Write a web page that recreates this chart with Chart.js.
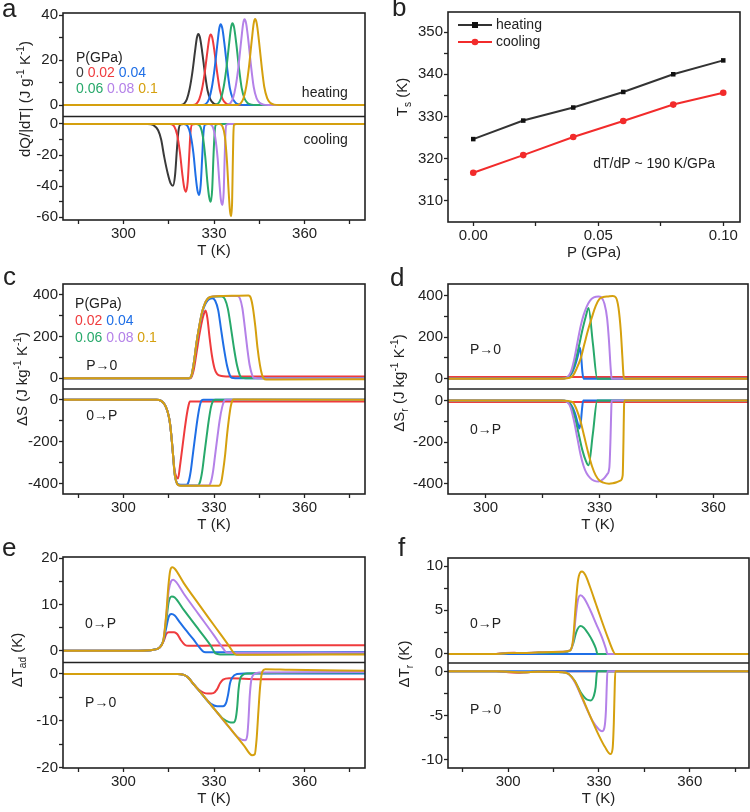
<!DOCTYPE html>
<html>
<head>
<meta charset="utf-8">
<title>Barocaloric panels a-f</title>
<script src="https://cdn.jsdelivr.net/npm/chart.js@4.4.1/dist/chart.umd.min.js"></script>
<style>
  html, body { margin: 0; padding: 0; background: #fff; overflow: hidden; }
  #fig { position: relative; width: 750px; height: 812px; overflow: hidden;
         font-family: "Liberation Sans", Arial, sans-serif; color: #222; }
  #fig canvas { position: absolute; }
  .lbl { position: absolute; font-size: 26px; line-height: 26px; }
  .ytitle { position: absolute; font-size: 15px; line-height: 18px; white-space: nowrap;
            transform: translate(-50%, -50%) rotate(-90deg); }
  sup, sub { font-size: 0.68em; line-height: 0; }
</style>
</head>
<body>
<div id="fig">
  <canvas id="ca"></canvas>
  <canvas id="cb"></canvas>
  <canvas id="cc"></canvas>
  <canvas id="cd"></canvas>
  <canvas id="ce"></canvas>
  <canvas id="cf"></canvas>

  <div class="lbl" style="left:2px;top:-5px">a</div>
  <div class="lbl" style="left:392px;top:-6px">b</div>
  <div class="lbl" style="left:3px;top:263px">c</div>
  <div class="lbl" style="left:390px;top:264px">d</div>
  <div class="lbl" style="left:2px;top:534px">e</div>
  <div class="lbl" style="left:398px;top:534px">f</div>

  <div class="ytitle" style="left:25px;top:99px">dQ/|dT| (J g<sup>-1</sup> K<sup>-1</sup>)</div>
  <div class="ytitle" style="left:402px;top:97px">T<sub>s</sub> (K)</div>
  <div class="ytitle" style="left:22px;top:379px">ΔS (J kg<sup>-1</sup> K<sup>-1</sup>)</div>
  <div class="ytitle" style="left:399px;top:383px">ΔS<sub>r</sub> (J kg<sup>-1</sup> K<sup>-1</sup>)</div>
  <div class="ytitle" style="left:17px;top:660px">ΔT<sub>ad</sub> (K)</div>
  <div class="ytitle" style="left:404px;top:664px">ΔT<sub>r</sub> (K)</div>
</div>

<script>
// colours per pressure (GPa)
const C000 = '#3a3a3a', C002 = '#ef3b3d', C004 = '#1f6fe6', C006 = '#28a96b', C008 = '#b481e8', C010 = '#d5a00e';
const INK = '#222';
const FONT = '"Liberation Sans", Arial, sans-serif';

// shared tick lists
const tTicks = [300, 330, 360];
const tMinor = [285, 315, 345, 375];

// ---- a: dQ/|dT| (J g-1 K-1), [T, value] ----
const aHeat000 = [[280,0],[318.9,0],[320.1,0.6],[321,2.5],[321.9,7],[322.8,14.2],[323.7,23.7],[324.35,30],[324.8,31.6],[325.35,30],[326.05,24],[326.95,14.5],[327.85,6.6],[328.8,2.5],[329.8,0.8],[331.1,0.16],[332.8,0],[380,0]];
const aHeat002 = [[280,0],[323,0],[324.2,0.6],[325.1,2.5],[326,6.9],[326.9,14.1],[327.8,23.6],[328.45,29.8],[328.9,31.4],[329.45,29.8],[330.15,23.9],[331.05,14.4],[331.95,6.6],[332.9,2.5],[333.9,0.8],[335.2,0.16],[336.9,0],[380,0]];
const aHeat004 = [[280,0],[326.3,0],[327.5,0.7],[328.4,2.9],[329.3,7.9],[330.2,16.2],[331.1,26.9],[331.75,34.1],[332.2,35.9],[332.75,34.1],[333.45,27.3],[334.35,16.5],[335.25,7.5],[336.2,2.9],[337.2,0.9],[338.5,0.18],[340.2,0],[380,0]];
const aHeat006 = [[280,0],[330.2,0],[331.4,0.7],[332.3,2.9],[333.2,8],[334.1,16.3],[335,27.2],[335.65,34.5],[336.1,36.3],[336.65,34.5],[337.35,27.6],[338.25,16.7],[339.15,7.6],[340.1,2.9],[341.1,0.9],[342.4,0.18],[344.1,0],[380,0]];
const aHeat008 = [[280,0],[334.2,0],[335.4,0.8],[336.3,3],[337.2,8.4],[338.1,17.1],[339,28.6],[339.65,36.2],[340.1,38.1],[340.65,36.2],[341.35,29],[342.25,17.5],[343.15,8],[344.1,3],[345.1,1],[346.4,0.19],[348.1,0],[380,0]];
const aHeat010 = [[280,0],[337.7,0],[338.9,0.8],[339.8,3.1],[340.7,8.4],[341.6,17.2],[342.5,28.7],[343.15,36.3],[343.6,38.2],[344.15,36.3],[344.85,29],[345.75,17.6],[346.65,8],[347.6,3.1],[348.6,1],[349.9,0.19],[351.6,0],[380,0]];
const aCool000 = [[280,0],[308,0],[310,-0.8],[311.5,-4],[312.5,-10],[313.5,-21],[314.7,-32],[315.6,-38],[316.4,-39.7],[317.1,-33],[317.7,-17],[318.2,-5],[318.8,-0.5],[320,0],[380,0]];
const aCool002 = [[280,0],[315.5,0],[316.8,-1.5],[317.8,-7],[318.7,-18],[319.5,-32],[320.1,-40.5],[320.7,-43.5],[321.3,-37],[321.8,-20],[322.2,-6],[322.7,-0.5],[324,0],[380,0]];
const aCool004 = [[280,0],[320,0],[321.3,-1.5],[322.3,-7.5],[323.2,-19],[323.9,-33],[324.5,-42.5],[325.1,-45.7],[325.6,-39],[326.1,-21],[326.5,-6],[327,-0.5],[328,0],[380,0]];
const aCool006 = [[280,0],[324.2,0],[325.4,-1.5],[326.3,-8],[327.1,-21],[327.8,-37],[328.4,-47],[328.9,-50],[329.4,-42],[329.8,-22],[330.2,-6],[330.6,-0.5],[331.5,0],[380,0]];
const aCool008 = [[280,0],[328.4,0],[329.5,-1.5],[330.4,-8.5],[331.2,-22],[331.8,-38],[332.3,-49],[332.8,-52.1],[333.2,-44],[333.5,-24],[333.8,-6],[334.1,-0.5],[335,0],[380,0]];
const aCool010 = [[280,0],[331.8,0],[332.8,-1.5],[333.6,-8],[334.3,-24],[334.9,-45],[335.3,-56],[335.7,-59.2],[336,-50],[336.2,-28],[336.4,-8],[336.6,-0.5],[337.5,0],[380,0]];
const aUpTicks = [0, 20, 40], aUpMinor = [10, 30];
const aLoTicks = [0, -20, -40, -60], aLoMinor = [-10, -30, -50];

// ---- b: transition temperature vs pressure ----
const bP = [0, 0.02, 0.04, 0.06, 0.08, 0.10];
const bHeat = [324.6, 329.0, 332.1, 335.8, 340.0, 343.3];
const bCool = [316.6, 320.8, 325.1, 328.9, 332.8, 335.6];
const bXTicks = [0, 0.05, 0.1], bXMinor = [0.025, 0.075];
const bYTicks = [310, 320, 330, 340, 350], bYMinor = [315, 325, 335, 345];

// ---- c: ΔS (J kg-1 K-1) ----
const cDec002 = [[280,0],[322.3,0],[323.3,40],[324.3,130],[325.3,220],[326.2,285],[326.8,315],[327.2,325],[327.8,290],[328.5,200],[329.3,110],[330.2,45],[331,20],[332.5,10],[334,8],[380,8]];
const cDec004 = [[280,0],[321.8,0],[322.6,15],[323.4,80],[324.2,165],[325.1,245],[326.1,315],[327,352],[327.8,372],[328.6,381],[329.4,384],[330.4,372],[331.4,326],[332.3,238],[333.3,142],[334.3,61],[335.2,15],[335.9,2],[337,0],[380,0]];
const cDec006 = [[280,0],[321.8,0],[322.6,15],[323.4,80],[324.2,170],[325.1,248],[326.1,320],[327,360],[327.8,380],[328.6,388],[329.6,391],[331,392],[332.6,392],[333.6,380],[334.6,333],[335.6,243],[336.6,145],[337.6,63],[338.5,16],[339.2,2],[340.5,0],[380,0]];
const cDec008 = [[280,0],[321.8,0],[322.6,15],[323.4,80],[324.2,170],[325.1,248],[326.1,320],[327,360],[327.8,380],[328.6,389],[329.6,393],[332,395],[335,395],[337.8,395],[338.6,383],[339.4,336],[340.2,245],[341,146],[341.8,63],[342.6,16],[343.1,2],[344.5,0],[380,0]];
const cDec010 = [[280,0],[321.8,0],[322.6,15],[323.4,80],[324.2,170],[325.1,248],[326.1,320],[327,360],[327.8,380],[328.6,389],[329.6,393],[333,395],[337,396],[341.4,397],[342.2,385],[342.9,337],[343.7,246],[344.4,147],[345.2,64],[345.9,16],[346.4,0],[347.3,-7],[350,-7],[380,-5]];
const cInc002 = [[280,0],[311,0],[312.5,-5],[313.7,-24],[314.6,-55],[315.3,-100],[315.8,-160],[316.2,-222],[316.6,-290],[316.9,-330],[317.4,-362],[318.1,-375],[318.7,-320],[319.5,-230],[320.3,-140],[321,-70],[321.6,-25],[322,-8],[323,-8],[380,-8]];
const cInc004 = [[280,0],[311,0],[312.5,-5],[313.7,-24],[314.6,-55],[315.3,-100],[315.8,-160],[316.2,-222],[316.6,-290],[316.9,-345],[317.4,-385],[318,-402],[319,-405],[320.9,-405],[321.6,-390],[322.3,-340],[323,-260],[323.8,-170],[324.5,-95],[325.2,-35],[325.9,-3],[326.5,0],[380,0]];
const cInc006 = [[280,0],[311,0],[312.5,-5],[313.7,-24],[314.6,-55],[315.3,-100],[315.8,-160],[316.2,-222],[316.6,-290],[316.9,-345],[317.4,-385],[318,-404],[319,-408],[324.6,-408],[325.4,-390],[326.1,-340],[326.8,-260],[327.6,-170],[328.3,-95],[329,-35],[329.8,-3],[330.5,0],[380,0]];
const cInc008 = [[280,0],[311,0],[312.5,-5],[313.7,-24],[314.6,-55],[315.3,-100],[315.8,-160],[316.2,-222],[316.6,-290],[316.9,-345],[317.4,-385],[318,-405],[319,-409],[328.2,-408],[329,-390],[329.7,-340],[330.4,-260],[331.2,-170],[331.9,-95],[332.7,-35],[333.5,-3],[334,0],[380,0]];
const cInc010 = [[280,0],[311,0],[312.5,-5],[313.7,-24],[314.6,-55],[315.3,-100],[315.8,-160],[316.2,-222],[316.6,-290],[316.9,-345],[317.4,-385],[318,-405],[319,-410],[331.6,-410],[332.4,-392],[333,-340],[333.7,-260],[334.3,-170],[334.9,-95],[335.5,-35],[336.1,-3],[336.6,1],[380,0]];
const cUpTicks = [0, 200, 400], cUpMinor = [100, 300];
const cLoTicks = [0, -200, -400], cLoMinor = [-100, -300];

// ---- d: ΔS_r (J kg-1 K-1) ----
const dDec002 = [[290,8],[369.5,8]];
const dDec004 = [[290,0],[320,0],[321.5,5],[322.5,20],[323.5,60],[324.3,110],[324.8,150],[325.1,120],[325.5,30],[325.8,0],[369.5,0]];
const dDec006 = [[290,0],[320,0],[321.5,6],[322.5,25],[323.5,75],[324.5,150],[325.5,235],[326.4,300],[327.1,339],[328.25,170],[329.4,0],[330,0],[369.5,0]];
const dDec008 = [[290,0],[320,0],[321.4,6],[322.4,30],[323.3,90],[324.2,175],[325,250],[325.8,305],[326.6,345],[327.5,375],[328.5,390],[329.7,395],[330.5,390],[331.3,360],[332,290],[332.5,180],[332.9,60],[333.2,0],[369.5,0]];
const dDec010 = [[290,0],[320,0],[321.8,3],[323,15],[324,50],[325,95],[326,165],[327,235],[328,295],[329,350],[330,383],[331,392],[332.3,395],[333.5,397],[334.3,390],[335,340],[335.6,230],[336,110],[336.3,20],[336.6,0],[369.5,0]];
const dInc002 = [[290,-8],[369.5,-8]];
const dInc004 = [[290,0],[320,0],[321.5,-5],[322.5,-20],[323.5,-60],[324.2,-105],[324.7,-135],[325.1,-100],[325.4,-40],[325.7,0],[369.5,0]];
const dInc006 = [[290,0],[320,0],[321.5,-6],[322.5,-25],[323.5,-80],[324.5,-160],[325.5,-240],[326.4,-290],[327.1,-312],[328.25,-160],[329.4,0],[330,0],[369.5,0]];
const dInc008 = [[290,0],[320,0],[321.4,-6],[322.4,-35],[323.3,-100],[324.2,-185],[325,-260],[325.8,-315],[326.6,-350],[327.5,-372],[328.5,-385],[329.7,-390],[331,-378],[332,-355],[332.6,-320],[332.9,-180],[333.1,-40],[333.2,0],[369.5,0]];
const dInc010 = [[290,0],[320,0],[321.8,-3],[323,-10],[324,-45],[325,-100],[326,-175],[327,-250],[328,-315],[329,-360],[330,-385],[331,-395],[332.5,-400],[333.5,-398],[334.5,-393],[335.5,-385],[336.1,-360],[336.3,-200],[336.45,-30],[336.6,0],[369.5,0]];
const dTMinor = [315, 345];

// ---- e: ΔT_ad (K) ----
const eInc002 = [[280,0],[305,0],[310,0.2],[312,0.7],[313.3,2],[314.2,3.6],[315,4],[316.8,4],[317.8,3.6],[319,2.3],[320.3,1.3],[321.5,1.05],[330,1.1],[380,1.2]];
const eInc004 = [[280,0],[305,0],[310,0.2],[312,0.7],[313.3,2.2],[314.2,5],[315,7.3],[315.9,7.9],[317,7.6],[318.5,6.3],[320.5,4.6],[323,2.6],[325.3,0.6],[326.7,-0.3],[328,-0.35],[380,-0.3]];
const eInc006 = [[280,0],[305,0],[310,0.2],[312,0.7],[313.3,2.4],[314.2,6.5],[315,10.5],[316,11.7],[317,11.5],[320,8.8],[325,4.5],[329,1],[330.5,-0.6],[332,-0.8],[380,-0.7]];
const eInc008 = [[280,0],[305,0],[310,0.2],[312,0.7],[313.3,2.5],[314.2,7.5],[315,13],[315.8,15],[316.5,15.3],[317.5,14.8],[320,12.3],[325,7.8],[330,3.3],[333,0.5],[334.2,-0.4],[336,-0.5],[380,-0.4]];
const eInc010 = [[280,0],[305,0],[310,0.2],[312,0.7],[313.3,2.5],[314.2,8],[314.9,14],[315.5,17.3],[316.2,18],[317,17.7],[320,14.6],[325,10],[330,5.5],[335,1],[336.6,-0.5],[337.5,-0.9],[345,-0.9],[380,-0.8]];
const eDec002 = [[280,0],[318,0],[320,-0.2],[321.5,-0.8],[323,-2],[325,-3.4],[326.5,-4],[328,-4.2],[329.8,-4.1],[331,-3.3],[332,-2],[333,-1.2],[335,-0.9],[345,-1.1],[380,-1.1]];
const eDec004 = [[280,0],[318,0],[320,-0.2],[321.5,-0.8],[323,-2],[325,-3.5],[327,-5.1],[329,-6.4],[331,-6.9],[333,-6.9],[334,-6.2],[334.7,-4.3],[335.3,-2],[336,-0.8],[337.6,0],[340,0.1],[380,0.1]];
const eDec006 = [[280,0],[318,0],[320,-0.2],[321.5,-0.8],[323,-2],[325,-3.5],[330,-7.4],[333,-9.6],[335,-10.3],[336.4,-10.4],[337.2,-9.5],[337.7,-7],[338.1,-3.5],[338.6,-1.2],[339.5,-0.2],[341,0.1],[380,0.3]];
const eDec008 = [[280,0],[318,0],[320,-0.2],[321.5,-0.8],[323,-2],[325,-3.5],[330,-7.4],[335,-11.4],[338,-13.6],[340.3,-14.2],[341,-13.2],[341.4,-10],[341.8,-5],[342.3,-1.5],[343,-0.2],[345,0.3],[380,0.4]];
const eDec010 = [[280,0],[318,0],[320,-0.2],[321.5,-0.8],[323,-2],[325,-3.5],[330,-7.4],[335,-11.4],[340,-15.4],[342.6,-17.4],[343.5,-17.2],[344.1,-14],[344.7,-8],[345.3,-2.5],[346,0.5],[347,1],[355,0.9],[380,0.7]];
const eUpTicks = [0, 10, 20], eUpMinor = [5, 15];
const eLoTicks = [0, -10, -20], eLoMinor = [-5, -15];

// ---- f: ΔT_r (K) ----
const fInc002 = [[280,0],[296,0],[299,0.1],[302,0.15],[305,0.05],[310,0],[380,0]];
const fInc004 = [[280,0],[380,0]];
const fInc006 = [[280,0],[296,0],[300,0.12],[305,0.1],[310,0.15],[318,0.2],[320.5,0.4],[321.5,1.2],[322.5,2.5],[323.9,3.2],[325,3],[326.5,2.3],[328,1.4],[329,0.6],[329.5,0],[380,0]];
const fInc008 = [[280,0],[296,0],[300,0.1],[305,0.1],[310,0.2],[318,0.25],[320.5,0.4],[321.5,1.5],[322.3,4.2],[323,6.1],[323.9,6.7],[325,6.4],[327,5.1],[329,3.5],[331,1.9],[332.3,0.6],[332.8,0],[380,0]];
const fInc010 = [[280,0],[296,0],[300,0.1],[305,0.1],[310,0.2],[318,0.25],[320.5,0.4],[321.5,1.8],[322.3,5.5],[323,8.2],[323.8,9.3],[324.4,9.4],[325.5,9],[327,7.7],[329,5.7],[331,3.7],[333,1.8],[334.6,0.4],[335.4,0],[380,0]];
const fDec002 = [[280,0],[296,0],[300,-0.1],[304,-0.15],[308,-0.05],[312,0],[380,0]];
const fDec004 = [[280,0],[380,0]];
const fDec006 = [[280,0],[296,0],[300,-0.05],[305,-0.1],[310,-0.05],[318,-0.1],[320,-0.3],[322,-1.1],[324,-2.4],[326,-3.2],[327.3,-3.3],[328.3,-2.8],[328.9,-1.8],[329.2,-0.5],[329.4,0],[380,0]];
const fDec008 = [[280,0],[296,0],[300,-0.05],[305,-0.1],[310,-0.05],[318,-0.1],[320,-0.3],[322,-1.2],[324,-2.7],[326,-4.3],[328,-5.7],[330,-6.6],[331,-6.8],[331.8,-6.4],[332.3,-4.5],[332.6,-1.5],[332.8,0],[380,0]];
const fDec010 = [[280,0],[296,0],[300,-0.05],[305,-0.1],[310,-0.05],[318,-0.1],[320,-0.3],[322,-1.1],[324,-2.6],[326,-4.2],[328,-5.8],[330,-7.3],[332,-8.6],[333.8,-9.4],[334.5,-8.8],[334.9,-6],[335.2,-2],[335.4,0],[380,0]];
const fUpTicks = [0, 5, 10], fUpMinor = [2.5, 7.5];
const fLoTicks = [0, -5, -10], fLoMinor = [-2.5, -7.5];

// ---------- helpers ----------
const AXW = 42, AXH = 40, PADL = 8, PADT = 10;

function line(pairs, color, axis) {
    return {
        data: pairs.map(p => ({ x: p[0], y: p[1] })),
        yAxisID: axis,
        borderColor: color,
        borderWidth: 2,
        pointRadius: 0,
        fill: false,
        cubicInterpolationMode: 'monotone'
    };
}

function tickSet(major, minor, min, max) {
    return major.concat(minor).filter(v => v >= min && v <= max).sort((p, q) => p - q);
}

function xAxis(min, max, major, minor, title, fmt) {
    return {
        type: 'linear', position: 'bottom', min: min, max: max,
        afterBuildTicks: s => { s.ticks = tickSet(major, minor, min, max).map(v => ({ value: v })); },
        afterFit: s => { s.height = AXH; },
        ticks: { autoSkip: false, maxRotation: 0, padding: 1, color: INK,
                 font: { family: FONT, size: 15 },
                 callback: v => major.includes(v) ? fmt(v) : '' },
        grid: { drawOnChartArea: false, tickLength: 4, tickColor: INK, tickWidth: 1.3 },
        border: { display: false },
        title: { display: true, text: title, color: INK, font: { family: FONT, size: 15 }, padding: 0 }
    };
}

function yAxis(min, max, major, minor, stacked, weight) {
    const ax = {
        type: 'linear', position: 'left', min: min, max: max,
        afterBuildTicks: s => { s.ticks = tickSet(major, minor, min, max).map(v => ({ value: v })); },
        afterFit: s => { s.width = AXW; },
        ticks: { autoSkip: false, padding: 1, color: INK, font: { family: FONT, size: 15 },
                 callback: v => major.includes(v) ? String(v) : '' },
        grid: { drawOnChartArea: false, tickLength: 4, tickColor: INK, tickWidth: 1.3 },
        border: { display: false }
    };
    if (stacked) { ax.stack = 'main'; ax.stackWeight = 1; ax.weight = weight; }
    return ax;
}

// frame round the plot and the divider between the two halves
const framePlugin = {
    id: 'frame',
    afterDatasetsDraw(chart) {
        const { ctx, chartArea: a } = chart;
        ctx.save();
        ctx.strokeStyle = INK;
        ctx.lineWidth = 1.6;
        ctx.strokeRect(a.left, a.top, a.right - a.left, a.bottom - a.top);
        const up = chart.scales.yU;
        if (up) {
            ctx.beginPath();
            ctx.moveTo(a.left, up.bottom);
            ctx.lineTo(a.right, up.bottom);
            ctx.stroke();
        }
        ctx.restore();
    }
};

// text placed at data coordinates
function notes(items) {
    return {
        id: 'notes',
        afterDraw(chart) {
            const ctx = chart.ctx;
            items.forEach(n => {
                const x = chart.scales.x.getPixelForValue(n.x);
                const y = chart.scales[n.axis].getPixelForValue(n.y);
                ctx.save();
                ctx.font = '14px ' + FONT;
                ctx.textBaseline = 'middle';
                const w = n.parts.reduce((s, p) => s + ctx.measureText(p[0]).width, 0);
                let cx = n.align === 'right' ? x - w : x;
                n.parts.forEach(p => {
                    ctx.fillStyle = p[1] || INK;
                    ctx.fillText(p[0], cx, y);
                    cx += ctx.measureText(p[0]).width;
                });
                ctx.restore();
            });
        }
    };
}

function panel(id, box, scales, datasets, extra) {
    const el = document.getElementById(id);
    const padR = box.padR !== undefined ? box.padR : 4;
    el.width = PADL + AXW + (box.R - box.L) + padR;
    el.height = PADT + (box.B - box.T) + AXH;
    el.style.left = (box.L - AXW - PADL) + 'px';
    el.style.top = (box.T - PADT) + 'px';
    return new Chart(el, {
        type: 'line',
        data: { datasets: datasets },
        options: {
            responsive: false,
            animation: false,
            events: [],
            layout: { padding: { left: PADL, top: PADT, right: padR, bottom: 0 } },
            plugins: { legend: { display: false }, tooltip: { enabled: false } },
            scales: scales
        },
        plugins: [framePlugin].concat(extra)
    });
}

const fmtT = v => String(v);
const arrow0P = '0\u2192P', arrowP0 = 'P\u21920';

// ---------- a ----------
panel('ca', { L: 63, T: 13, R: 365, B: 220 }, {
    x: xAxis(280, 380, tTicks, tMinor, 'T (K)', fmtT),
    yU: yAxis(-5.1, 40.9, aUpTicks, aUpMinor, true, 2),
    yL: yAxis(-61.7, 4.8, aLoTicks, aLoMinor, true, 1)
}, [
    line(aHeat010, C010, 'yU'), line(aHeat008, C008, 'yU'), line(aHeat006, C006, 'yU'),
    line(aHeat004, C004, 'yU'), line(aHeat002, C002, 'yU'), line(aHeat000, C000, 'yU'),
    line(aCool010, C010, 'yL'), line(aCool008, C008, 'yL'), line(aCool006, C006, 'yL'),
    line(aCool004, C004, 'yL'), line(aCool002, C002, 'yL'), line(aCool000, C000, 'yL')
], [notes([
    { x: 284.3, y: 20.9, axis: 'yU', parts: [['P(GPa)']] },
    { x: 284.3, y: 14.2, axis: 'yU', parts: [['0', C000], [' '], ['0.02', C002], [' '], ['0.04', C004]] },
    { x: 284.3, y: 7.1, axis: 'yU', parts: [['0.06', C006], [' '], ['0.08', C008], [' '], ['0.1', C010]] },
    { x: 374.3, y: 5.3, axis: 'yU', align: 'right', parts: [['heating']] },
    { x: 374.3, y: -10.3, axis: 'yL', align: 'right', parts: [['cooling']] }
])]);

// ---------- b ----------
const bLegend = {
    id: 'bLegend',
    afterDraw(chart) {
        const { ctx, chartArea: a } = chart;
        chart.data.datasets.forEach((ds, i) => {
            const y = a.top + 13 + i * 17;
            ctx.save();
            ctx.strokeStyle = ds.borderColor;
            ctx.lineWidth = 2;
            ctx.beginPath();
            ctx.moveTo(a.left + 10, y);
            ctx.lineTo(a.left + 44, y);
            ctx.stroke();
            ctx.fillStyle = ds.pointBackgroundColor;
            if (ds.pointStyle === 'rect') {
                ctx.fillRect(a.left + 24, y - 3, 6, 6);
            } else {
                ctx.beginPath();
                ctx.arc(a.left + 27, y, 3.3, 0, Math.PI * 2);
                ctx.fill();
            }
            ctx.fillStyle = INK;
            ctx.font = '14px ' + FONT;
            ctx.textBaseline = 'middle';
            ctx.fillText(ds.label, a.left + 48, y);
            ctx.restore();
        });
    }
};

panel('cb', { L: 448, T: 12, R: 740, B: 222 }, {
    x: xAxis(-0.0101, 0.1067, bXTicks, bXMinor, 'P (GPa)', v => v.toFixed(2)),
    y: yAxis(304.9, 354.8, bYTicks, bYMinor, false, 0)
}, [
    { label: 'heating', data: bP.map((p, i) => ({ x: p, y: bHeat[i] })), yAxisID: 'y',
      borderColor: '#333333', borderWidth: 2, pointStyle: 'rect', pointRadius: 3.2,
      pointBackgroundColor: '#111111', pointBorderWidth: 0, tension: 0 },
    { label: 'cooling', data: bP.map((p, i) => ({ x: p, y: bCool[i] })), yAxisID: 'y',
      borderColor: '#f22b2b', borderWidth: 2, pointStyle: 'circle', pointRadius: 3.3,
      pointBackgroundColor: '#f22b2b', pointBorderWidth: 0, tension: 0 }
], [bLegend, notes([
    { x: 0.048, y: 318.7, axis: 'y', parts: [['dT/dP ~ 190 K/GPa']] }
])]);

// ---------- c ----------
panel('cc', { L: 63, T: 284, R: 365, B: 494 }, {
    x: xAxis(280, 380, tTicks, tMinor, 'T (K)', fmtT),
    yU: yAxis(-52.3, 452.7, cUpTicks, cUpMinor, true, 2),
    yL: yAxis(-449, 51.4, cLoTicks, cLoMinor, true, 1)
}, [
    line(cDec010, C010, 'yU'), line(cDec008, C008, 'yU'), line(cDec006, C006, 'yU'),
    line(cDec004, C004, 'yU'), line(cDec002, C002, 'yU'),
    line(cInc010, C010, 'yL'), line(cInc008, C008, 'yL'), line(cInc006, C006, 'yL'),
    line(cInc004, C004, 'yL'), line(cInc002, C002, 'yL')
], [notes([
    { x: 284, y: 357, axis: 'yU', parts: [['P(GPa)']] },
    { x: 284, y: 275, axis: 'yU', parts: [['0.02', C002], [' '], ['0.04', C004]] },
    { x: 284, y: 194, axis: 'yU', parts: [['0.06', C006], [' '], ['0.08', C008], [' '], ['0.1', C010]] },
    { x: 287.7, y: 56, axis: 'yU', parts: [[arrowP0]] },
    { x: 287.7, y: -80, axis: 'yL', parts: [[arrow0P]] }
])]);

// ---------- d ----------
panel('cd', { L: 448, T: 284, R: 748, B: 494, padR: 1 }, {
    x: xAxis(290.1, 369.1, tTicks, dTMinor, 'T (K)', fmtT),
    yU: yAxis(-49.4, 454.6, cUpTicks, cUpMinor, true, 2),
    yL: yAxis(-449.5, 54.8, cLoTicks, cLoMinor, true, 1)
}, [
    line(dDec010, C010, 'yU'), line(dDec008, C008, 'yU'), line(dDec006, C006, 'yU'),
    line(dDec004, C004, 'yU'), line(dDec002, C002, 'yU'),
    line(dInc010, C010, 'yL'), line(dInc008, C008, 'yL'), line(dInc006, C006, 'yL'),
    line(dInc004, C004, 'yL'), line(dInc002, C002, 'yL')
], [notes([
    { x: 295.9, y: 139, axis: 'yU', parts: [[arrowP0]] },
    { x: 295.9, y: -141, axis: 'yL', parts: [[arrow0P]] }
])]);

// ---------- e ----------
panel('ce', { L: 63, T: 557, R: 365, B: 768 }, {
    x: xAxis(280, 380, tTicks, tMinor, 'T (K)', fmtT),
    yU: yAxis(-2.55, 20.24, eUpTicks, eUpMinor, true, 2),
    yL: yAxis(-20.13, 2.46, eLoTicks, eLoMinor, true, 1)
}, [
    line(eInc010, C010, 'yU'), line(eInc008, C008, 'yU'), line(eInc006, C006, 'yU'),
    line(eInc004, C004, 'yU'), line(eInc002, C002, 'yU'),
    line(eDec010, C010, 'yL'), line(eDec008, C008, 'yL'), line(eDec006, C006, 'yL'),
    line(eDec004, C004, 'yL'), line(eDec002, C002, 'yL')
], [notes([
    { x: 287.3, y: 5.8, axis: 'yU', parts: [[arrow0P]] },
    { x: 287.3, y: -6.2, axis: 'yL', parts: [[arrowP0]] }
])]);

// ---------- f ----------
panel('cf', { L: 448, T: 558, R: 749, B: 768, padR: 1 }, {
    x: xAxis(280.1, 379.6, tTicks, tMinor, 'T (K)', fmtT),
    yU: yAxis(-1.03, 10.95, fUpTicks, fUpMinor, true, 2),
    yL: yAxis(-10.98, 0.95, fLoTicks, fLoMinor, true, 1)
}, [
    line(fInc010, C010, 'yU'), line(fInc008, C008, 'yU'), line(fInc006, C006, 'yU'),
    line(fInc004, C004, 'yU'), line(fInc002, C002, 'yU'),
    line(fDec010, C010, 'yL'), line(fDec008, C008, 'yL'), line(fDec006, C006, 'yL'),
    line(fDec004, C004, 'yL'), line(fDec002, C002, 'yL')
], [notes([
    { x: 287.4, y: 3.4, axis: 'yU', parts: [[arrow0P]] },
    { x: 287.4, y: -4.35, axis: 'yL', parts: [[arrowP0]] }
])]);
</script>
</body>
</html>
